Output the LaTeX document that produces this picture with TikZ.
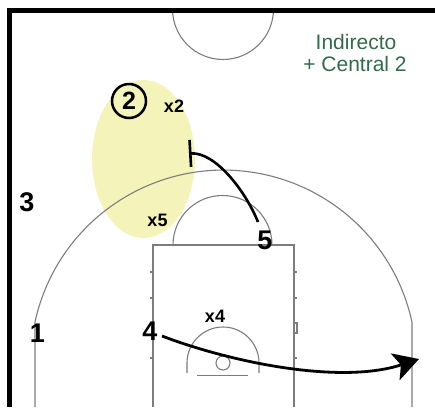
\documentclass[tikz,border=0pt]{standalone}
\usepackage{fontspec}
\setmainfont{Liberation Sans}
\usepackage{xcolor}
\usepackage{tikz}
\usetikzlibrary{arrows,arrows.meta}
\usetikzlibrary{backgrounds}
\pgfdeclarelayer{edgelayer}
\pgfdeclarelayer{nodelayer}
\pgfsetlayers{background,edgelayer,nodelayer,main}
\definecolor{zone}{RGB}{244,243,186}
\definecolor{titlegreen}{RGB}{48,108,72}
\definecolor{courtgray}{RGB}{125,125,125}
\tikzstyle{none}=[inner sep=0mm]
\tikzstyle{court}=[draw=courtgray,line width=1.1pt]
\tikzstyle{player}=[inner sep=0mm,font=\fontsize{27}{27}\selectfont\bfseries]
\tikzstyle{defender}=[inner sep=0mm,font=\fontsize{18}{18}\selectfont\bfseries]
\tikzstyle{ball}=[draw,circle,line width=2.5pt,inner sep=0mm,minimum size=34pt,font=\fontsize{25}{25}\selectfont\bfseries]
\tikzstyle{title}=[inner sep=0mm,anchor=base,text=titlegreen,font=\fontsize{21}{21}\selectfont]
\tikzset{
	screen/.style={line width=2.6pt,arrows={Bar[width=27pt]-}},
	cut/.style={line width=2.8pt,arrows={-Stealth[length=25pt,width=28pt,inset=6pt]}}
}

\begin{document}
\begin{tikzpicture}[x=1pt,y=1pt]
	\useasboundingbox (0,0) rectangle (435,407);
	\begin{pgfonlayer}{background}
		\fill [zone] (143.5,248) ellipse [x radius=51.5, y radius=79];
	\end{pgfonlayer}
	\begin{pgfonlayer}{nodelayer}
		\node [style=ball] (b2) at (129,306) {2};
		\node [style=defender] (x2) at (174,301) {x2};
		\node [style=defender] (x5) at (157.5,187) {x5};
		\node [style=defender] (x4) at (215,91) {x4};
		\node [style=player] (p3) at (27,205) {3};
		\node [style=player] (p1) at (37.5,74) {1};
		\node [style=player] (p4) at (150,76) {4};
		\node [style=player] (p5) at (265,167) {5};
		\node [style=none] (scr) at (189,253.5) {};
		\node [style=none] (s5) at (258,185) {};
		\node [style=none] (c4) at (162,71) {};
		\node [style=none] (c4end) at (419,48) {};
		\node [style=title] (t1) at (356,357) {Indirecto};
		\node [style=title] (t2) at (355,335) {+ Central 2};
	\end{pgfonlayer}
	\begin{pgfonlayer}{edgelayer}
		\draw [style=court] (172.5,398) arc (180:360:50.5);
		\draw [style=court] (35,0) -- (35,85) arc (167.73:12.27:192.9) -- (412,0);
		\draw [style=court] (153,0) -- (153,162) -- (294,162) -- (294,0);
		\foreach \ty in {135,109,49} {
			\draw [style=court] (150,\ty) -- (153,\ty);
			\draw [style=court] (294,\ty) -- (297,\ty);
		}
		\draw [style=court] (294,74) rectangle (297,84);
		\draw [style=court] (173,162) arc (180:0:49.5);
		\draw [style=court] (187,34) -- (187,44) arc (180:0:36) -- (259,34);
		\draw [style=court] (223,44) circle [radius=7];
		\draw [style=court] (197,31.5) -- (248,31.5);
		\draw [line width=5pt] (9.5,0) -- (9.5,396.5) -- (435,396.5);
		\draw [style=screen] (scr.center) .. controls (215,255) and (245,217) .. (s5.center);
		\draw [style=cut] (c4.center) .. controls (230,45) and (340,22) .. (c4end.center);
	\end{pgfonlayer}
\end{tikzpicture}
\end{document}
